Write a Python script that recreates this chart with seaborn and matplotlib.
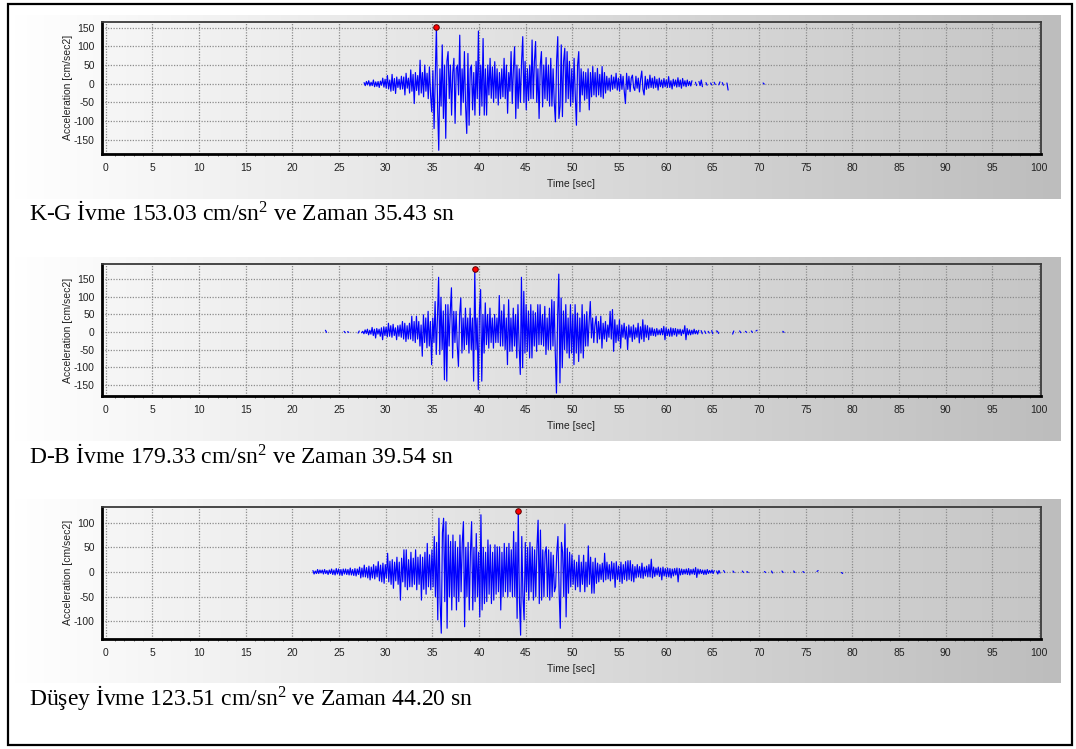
import numpy as np
import pandas as pd
import matplotlib
matplotlib.use("Agg")
import matplotlib.pyplot as plt
from matplotlib.colors import LinearSegmentedColormap
from matplotlib.patches import Rectangle
from matplotlib.ticker import MultipleLocator
import seaborn as sns

nan = np.nan
STEP = 0.125  # sampling step of the tabulated records [sec]; one row = 1 sec

# ---- acceleration records [cm/sec2] ----
kg_start = 27.68
kg_acc = [
    3, -5, 6, -3, 8, -6, 4, -5,
    10, -8, 5, -7, 6, -10, 7, -4,
    15, -9, 12, -12, 22, -14, 10, -20,
    25, -18, 14, -26, 18, -10, 12, -15,
    20, -14, 18, -30, 28, -12, 15, -25,
    37, -20, 25, -53, 30, -18, 22, -30,
    63, -25, 30, -35, 50, -20, 28, -40,
    45, -30, -75, 35, -120, 20, 153.03, -60,
    -178, 40, -60, 104, -93, 50, -146, 60,
    86, -40, 50, -84, 30, 68, -106, 40,
    50, -30, 130, -84, 40, -50, 86, -60,
    -133, 81, -111, 40, 50, -70, 30, -84,
    60, -40, 141, -84, 50, -60, 121, -84,
    40, -84, 50, -30, 68, -39, 45, -50,
    59, -39, 40, -57, 30, -40, 40, -35,
    68, -40, 50, -79, 30, -20, 86, -53,
    40, 99, -93, 50, -66, 40, -50, 60,
    126, -50, 60, -70, 40, -45, 50, -40,
    117, -40, 60, 113, -50, 40, -93, 50,
    86, -62, 50, -40, 70, -45, 50, -60,
    68, -60, 40, -50, -102, 60, 126, -93,
    -60, 104, -88, 60, 95, -50, 86, -40,
    60, -60, 40, -50, 68, -30, -111, 50,
    86, -75, 40, -30, 32, -44, 30, -40,
    40, -70, 30, -35, 46, -30, 30, -35,
    41, -30, 25, -35, 46, -39, 30, -25,
    20, -17, 15, -20, 23, -15, 18, -12,
    28, -17, 15, -20, 25, -15, 20, -20,
    -53, 28, -15, 20, -21, 15, 23, -10,
    -18, 20, -12, 15, -22, 12, 34, -15,
    -30, 20, -15, 12, -12, 23, -10, 15,
    -12, 19, -10, 12, -17, 15, -8, 10,
    -11, 14, -8, 10, -10, 19, -10, 8,
    -14, 12, -6, 10, -9, 16, -8, 10,
    -12, 14, -6, 8, -8, 10, -5, 6,
    -6, 8, nan, nan, 4, -5, nan, 6,
    -5, 10, -8, nan, nan, 3, -4, nan,
    nan, 2, -3, nan, 4, -2, nan, nan,
    -3, 5, nan, 3, -4, nan, nan, 2,
    -17, nan, nan, nan, nan, nan, nan, nan,
    nan, nan, nan, nan, nan, nan, nan, nan,
    nan, nan, nan, nan, nan, nan, nan, nan,
    nan, nan, nan, nan, nan, nan, 2, -1,
]

db_start = 23.54
db_acc = [
    5, -1, nan, nan, nan, nan, nan, nan,
    nan, nan, nan, nan, nan, nan, nan, nan,
    2, -2, nan, 1, -1, nan, nan, nan,
    nan, nan, nan, nan, -3, 3, nan, -2,
    2, -5, 6, -4, 8, -8, 5, -6,
    13, -10, 8, -17, 10, -6, 8, -12,
    12, -22, 15, -10, 14, -14, 25, -12,
    18, -15, 22, -10, 12, -22, 18, -12,
    20, -15, 30, -20, 25, -27, 18, -20,
    25, -20, 45, -25, 30, -30, 45, -20,
    30, -40, 20, -69, 49, -30, 40, -45,
    59, -40, 30, -93, 40, -30, 87, -64,
    40, 156, -64, 99, -50, 60, -136, 78,
    -140, 78, -40, 60, 126, -74, 59, -30,
    59, -40, -98, 50, 97, -60, 40, -50,
    68, -36, 40, -60, 68, -50, 40, -140,
    179.33, -50, 40, -164, 60, 121, -140, 50,
    -60, 83, -36, 50, -46, 68, -30, 40,
    -46, 50, -30, 40, -30, 104, -40, 60,
    -40, 78, -50, 40, -93, 92, -55, 40,
    -55, 68, -40, 50, -74, 78, -40, -121,
    156, -102, 116, -60, 78, -55, 60, -74,
    78, -74, 60, -40, 55, -55, 78, -36,
    78, -36, 50, -40, 73, -64, 40, -50,
    68, -50, 92, -40, 87, -60, -174, 40,
    165, -145, 97, -102, 60, -50, 78, -60,
    40, -74, 78, -60, 50, -93, 78, -60,
    54, -84, 40, -60, 78, -74, 50, -40,
    58, -40, 30, 87, -17, 40, -30, 20,
    45, -31, 30, -20, 45, -46, 25, -20,
    30, -27, 20, -15, 59, -20, 64, -55,
    35, -30, 20, -25, 35, -46, 20, -15,
    25, -20, 15, -50, 20, -15, 15, -27,
    20, -20, 12, -15, 25, -31, 15, -20,
    35, -27, 20, -15, 18, -22, 12, -10,
    12, -10, 8, -12, 10, -8, 6, -8,
    10, -8, 16, -22, 12, -10, 8, -12,
    12, -12, 10, -8, 10, -12, 8, -6,
    8, -10, 6, -5, 18, -22, 10, -8,
    6, -8, 5, -6, 8, -5, 4, -6,
    5, nan, 4, -5, nan, 3, -4, nan,
    2, -3, nan, 4, -5, nan, nan, 3,
    2, -4, nan, nan, nan, nan, nan, nan,
    nan, nan, nan, nan, nan, -6, 3, nan,
    nan, nan, nan, 3, -2, nan, nan, nan,
    2, -1, nan, nan, nan, 3, -1, nan,
    nan, 3, 5, nan, nan, nan, nan, nan,
    nan, nan, nan, nan, nan, nan, nan, nan,
    nan, nan, nan, nan, nan, nan, nan, nan,
    2, -1,
]

dusey_start = 22.20
dusey_acc = [
    3, -4, 2, -3, 5, -3, 4, -2,
    4, -4, 5, -3, 3, -5, 4, -3,
    6, -5, 4, -6, 7, -4, 6, -6,
    5, -7, 6, -4, 6, -5, 5, -6,
    8, -6, 5, -7, 7, -8, 6, -5,
    10, -12, 8, -10, 14, -10, 9, -12,
    12, -16, 10, -12, 15, -14, 12, -10,
    21, -18, 14, -20, 18, -23, 15, -12,
    38, -20, 22, -25, 25, -33, 20, -18,
    30, -25, 20, -57, 28, -20, 45, -30,
    45, -36, 25, -30, 40, -30, 28, -25,
    45, -36, 30, -25, 35, -57, 30, -35,
    40, -45, 58, -30, 35, -36, 45, -30,
    72, -50, 60, -97, 109, -60, -124, 80,
    109, -60, 102, -114, 75, -50, 62, -77,
    75, -50, 62, -77, 50, -60, 75, -40,
    60, 102, -111, 50, -50, 60, -77, 40,
    102, -77, 50, -60, 78, -50, 40, -91,
    116, -77, 50, -64, 40, -60, 65, -45,
    55, -64, 40, -57, 55, -45, 51, -40,
    51, -77, 40, -50, 58, -40, 50, -50,
    58, -40, 45, -50, 82, -50, 60, -94,
    123.51, -60, -128, 72, -50, -97, 60, -40,
    50, -57, 60, -40, 51, -57, 45, -50,
    50, 105, -64, 85, -57, 45, -50, 40,
    51, -50, 45, -57, 40, -50, 34, -40,
    -30, 40, 72, -40, -114, 60, 40, -50,
    97, -91, 48, -43, 40, -30, 35, -25,
    24, -36, 20, -30, 34, -40, 20, -25,
    34, -40, 20, -30, 53, -25, 30, -43,
    20, -43, 28, -23, 18, -20, 15, -15,
    18, -20, 38, -16, 20, -14, 15, -18,
    21, -14, 18, -31, 21, -15, 12, -20,
    20, -23, 15, -15, 21, -18, 23, -15,
    23, -18, 15, -20, 11, -12, 15, -10,
    11, -12, 18, -13, 10, -8, 12, -10,
    15, -10, 26, -12, 10, -9, 8, -6,
    10, -9, 8, -16, 10, -8, 7, -10,
    8, -10, 7, -12, 6, -8, 7, -6,
    8, -20, 7, -6, 6, -5, 5, -4,
    6, -5, 7, -6, 5, -4, 6, -5,
    9, -11, 6, -4, 5, -3, 4, -5,
    4, -5, 5, -3, 3, -2, 4, -3,
    3, nan, 2, -4, 3, -2, nan, nan,
    3, -1, nan, nan, nan, nan, nan, nan,
    2, -1, nan, nan, nan, nan, nan, nan,
    2, -1, nan, nan, 1, -1, nan, nan,
    nan, nan, nan, nan, nan, nan, nan, nan,
    nan, nan, nan, 1, -1, nan, nan, nan,
    nan, 2, -2, nan, nan, nan, nan, nan,
    nan, nan, 2, -1, nan, nan, nan, nan,
    nan, nan, nan, nan, 2, -1, nan, nan,
    nan, nan, nan, nan, 1, -1, nan, nan,
    nan, nan, nan, nan, nan, nan, nan, nan,
    1, 3, nan, nan, nan, nan, nan, nan,
    nan, nan, nan, nan, nan, nan, nan, nan,
    nan, nan, nan, nan, nan, -1, -3,
]

components = ["K-G", "D-B", "Düşey"]
starts = [kg_start, db_start, dusey_start]
records = [kg_acc, db_acc, dusey_acc]
peak_acc = [153.03, 179.33, 123.51]
peak_time = [35.43, 39.54, 44.20]
y_ticks = [
    [-150, -100, -50, 0, 50, 100, 150],
    [-150, -100, -50, 0, 50, 100, 150],
    [-100, -50, 0, 50, 100],
]
x_ticks = list(range(0, 101, 5))

# ---- layout (pixels on a 1076 x 749 canvas) ----
W, H = 1076, 749
AX_LEFT, AX_RIGHT = 101.6, 1040.8
panel_tops = [21.7, 264.3, 506.7]
panel_bottoms = [154.0, 395.7, 639.0]
y_limits = [(-188, 166), (-181.5, 193), (-135.8, 132.4)]
x_limits = (-0.44, 100.18)
band_tops = [15.0, 256.7, 499.0]
band_height = 184.0
caption_baselines = [220.5, 462.7, 705.5]

sns.set_theme(style="white")
plt.rcParams["font.family"] = ["Liberation Sans", "DejaVu Sans"]
plt.rcParams["axes.unicode_minus"] = False
plt.rcParams["mathtext.fontset"] = "custom"
plt.rcParams["mathtext.rm"] = "Liberation Serif"
plt.rcParams["mathtext.it"] = "Liberation Serif:italic"

fig = plt.figure(figsize=(W / 100, H / 100), dpi=100)
fig.patch.set_facecolor("white")

band_cmap = LinearSegmentedColormap.from_list("band", ["#ffffff", "#bdbdbd"])
face_cmap = LinearSegmentedColormap.from_list("face", ["#f6f6f6", "#c6c6c6"])
ramp = np.linspace(0, 1, 256)[None, :]

# page background: framed sheet with gradient bands behind each chart
bg = fig.add_axes([0, 0, 1, 1], zorder=-10)
bg.set_axis_off()
for top in band_tops:
    bg.imshow(ramp, cmap=band_cmap, aspect="auto", interpolation="bilinear",
              extent=(9, 1060.5, top + band_height, top), zorder=0)
bg.add_patch(Rectangle((7.6, 4.0), 1064.4, 740.5, fill=False,
                       lw=1.6, ec="black", zorder=2))
bg.set_xlim(0, W)
bg.set_ylim(H, 0)

for i in range(3):
    top, bottom = panel_tops[i], panel_bottoms[i]
    ax = fig.add_axes([AX_LEFT / W, 1 - bottom / H,
                       (AX_RIGHT - AX_LEFT) / W, (bottom - top) / H])
    ax.set_facecolor("none")
    ax.imshow(ramp, cmap=face_cmap, aspect="auto", interpolation="bilinear",
              extent=(0, 1, 0, 1), transform=ax.transAxes, zorder=0)

    acc = np.asarray(records[i], dtype=float)
    t = starts[i] + STEP * np.arange(len(acc))
    df = pd.DataFrame({"t": t, "acc": acc,
                       "seg": np.cumsum(np.isnan(acc))})
    sns.lineplot(data=df, x="t", y="acc", units="seg", estimator=None,
                 sort=False, color="#0000ff", lw=0.85, ax=ax, zorder=3)
    sns.scatterplot(x=[peak_time[i]], y=[peak_acc[i]], ax=ax, color="#ff0000",
                    edgecolor="#5a0000", linewidth=0.7, s=16, zorder=5,
                    clip_on=False)

    ax.set_xlim(*x_limits)
    ax.set_ylim(*y_limits[i])
    ax.set_xticks(x_ticks)
    ax.xaxis.set_minor_locator(MultipleLocator(1))
    ax.set_yticks(y_ticks[i])
    ax.grid(True, which="major", color="#8c8c8c", lw=0.9, ls=(0, (1, 1.2)))
    ax.tick_params(axis="both", which="major", labelsize=7.5,
                   labelcolor="#222222", color="#333333", direction="out",
                   length=2.5, width=0.8, pad=2.5)
    ax.tick_params(axis="x", which="major", length=3, pad=3.5)
    ax.tick_params(axis="x", which="minor", length=1.6, width=0.6,
                   color="#555555", bottom=True)

    for side in ("left", "bottom"):
        ax.spines[side].set_color("black")
        ax.spines[side].set_linewidth(2.0)
    for side in ("top", "right"):
        ax.spines[side].set_color("#3a3a3a")
        ax.spines[side].set_linewidth(1.3)

    ax.set_ylabel("Acceleration [cm/sec2]", fontsize=7.5, color="#222222")
    ax.yaxis.set_label_coords((73.0 - AX_LEFT) / (AX_RIGHT - AX_LEFT), 0.5)
    ax.set_xlabel("Time [sec]", fontsize=7.5, color="#222222")
    ax.xaxis.set_label_coords(0.5, -25.0 / (bottom - top))

    fig.text(29.3 / W, 1 - caption_baselines[i] / H,
             f"{components[i]} İvme {peak_acc[i]:.2f} cm/sn$^{{2}}$ "
             f"ve Zaman {peak_time[i]:.2f} sn",
             fontsize=17, family=["Liberation Serif", "DejaVu Serif"],
             color="black", ha="left", va="baseline")

fig.savefig("out.png", dpi=100)
